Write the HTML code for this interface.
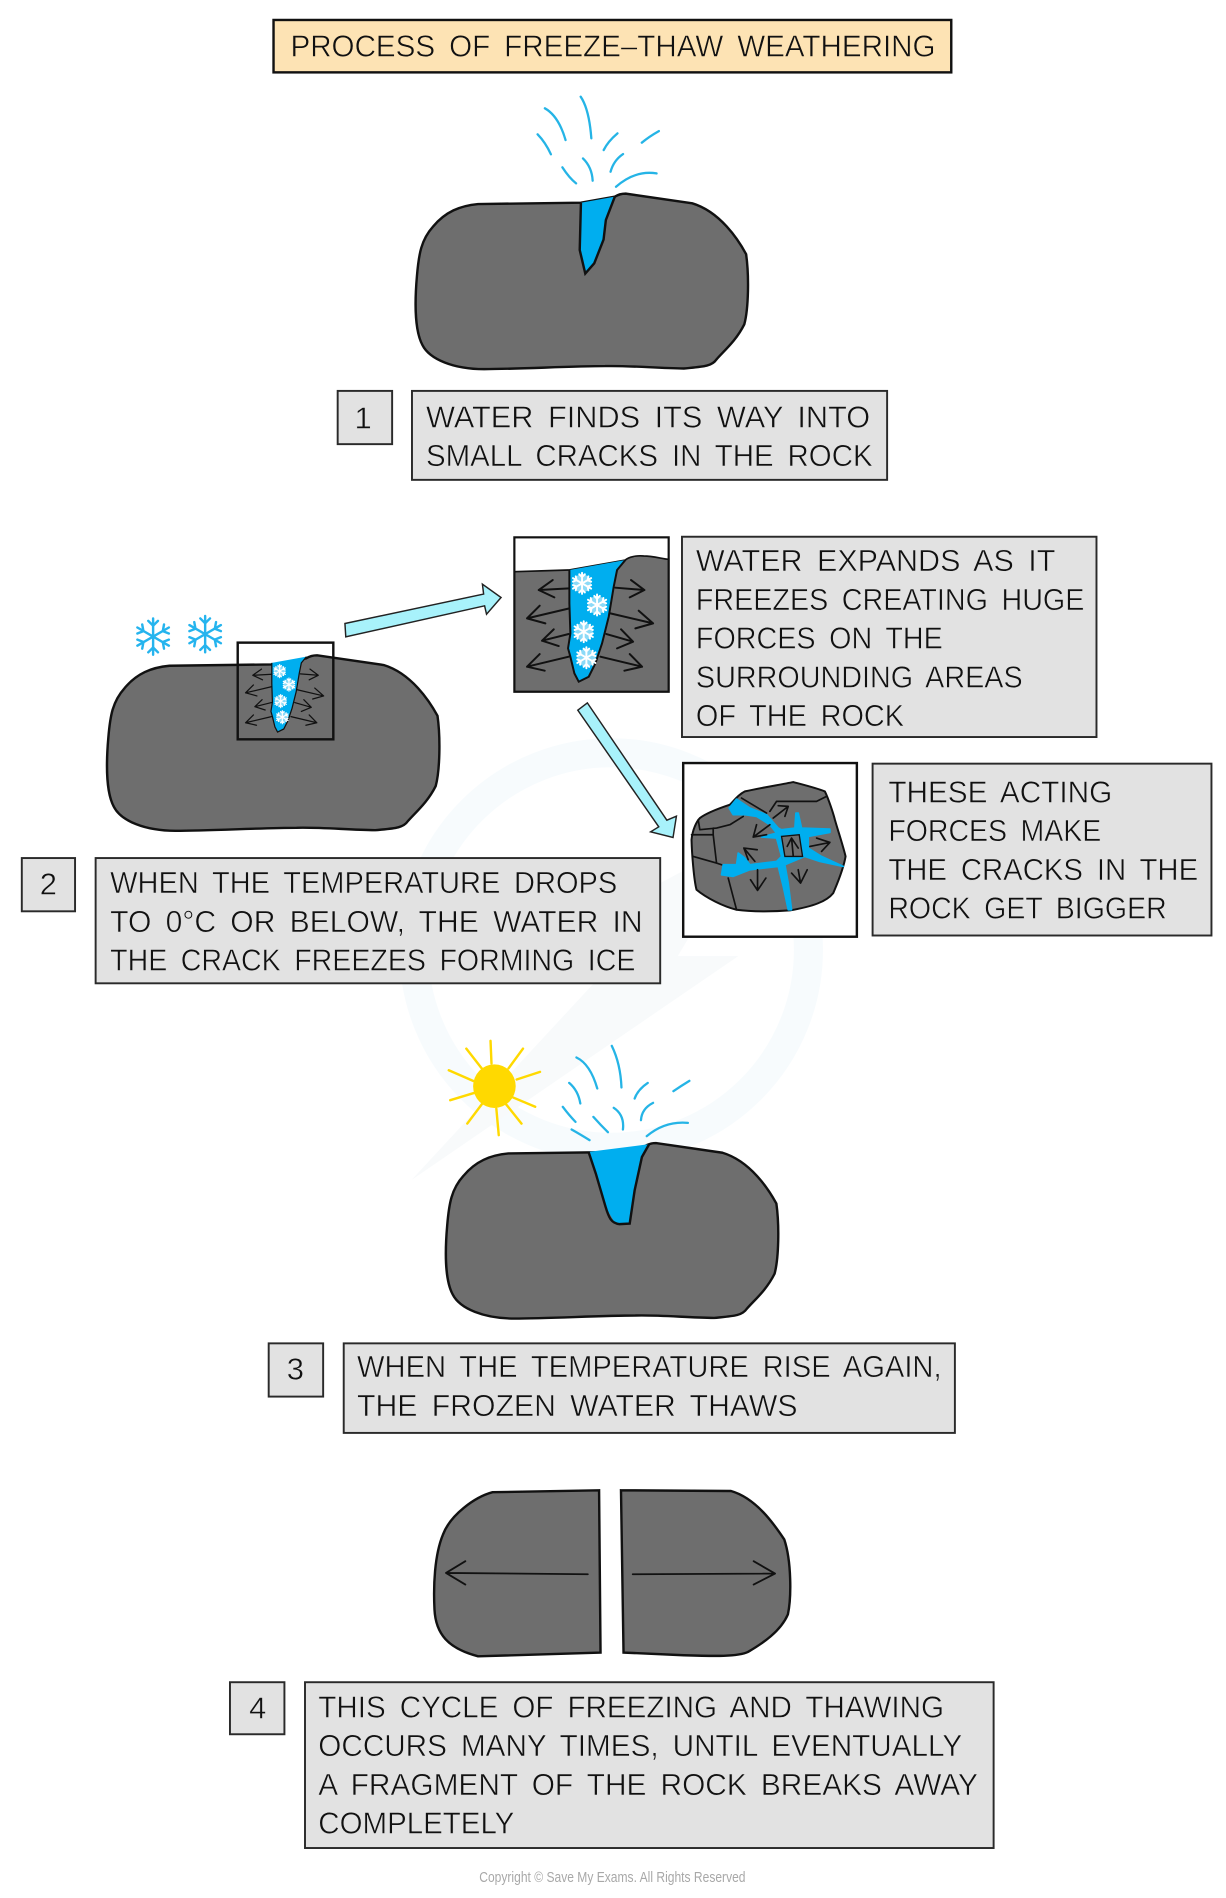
<!DOCTYPE html>
<html>
<head>
<meta charset="utf-8">
<title>Process of Freeze-Thaw Weathering</title>
<style>
html,body{margin:0;padding:0;background:#fff;}
svg{display:block;}
.t{font-family:"Liberation Sans",Arial,sans-serif;font-size:25.6px;fill:#111;stroke:#e2e2e2;stroke-width:.45px;word-spacing:5px;}
.n{font-family:"Liberation Sans",Arial,sans-serif;font-size:25.6px;fill:#111;stroke:#e2e2e2;stroke-width:.4px;text-anchor:middle;}
.b{fill:#e2e2e2;stroke:#2a2a2a;stroke-width:1.6;}
.ar{fill:none;stroke:#111;stroke-linecap:round;stroke-linejoin:round;}
.sp{fill:none;stroke:#25b4e6;stroke-width:1.900;stroke-linecap:round;stroke-linejoin:round;}
</style>
</head>
<body>
<svg xmlns="http://www.w3.org/2000/svg" width="1226" height="1898" viewBox="0 0 1013 1568.300">
<defs>
<path id="rock" d="M395,168.600 L480,167.500 L508,162.500 Q512,160 517,160 L572,168 C595,175 610,198 616.500,210 C619,228 618.500,255 615,268 C608,282 598,290 592,297 C588,303 580,303 565,304.500 C540,304 520,302 500,302.500 C470,302.500 430,305 400,305 C375,305 355,297 349,285 C342,272 343,245 344.500,228 C346,210 348,198 358,187 C368,175 380,170 395,168.600 Z" fill="#6e6e6e" stroke="#111" stroke-width="2"/>
<g id="sf" fill="none" stroke-linecap="round">
<path d="M0,-15V15M-13,-7.500L13,7.500M-13,7.500L13,-7.500"/>
<path d="M-4,-13L0,-9L4,-13M-4,13L0,9L4,13M-13,-2.500L-8,-4.500L-9,-10M13,2.500L8,4.500L9,10M-13,2.500L-8,4.500L-9,10M13,-2.500L8,-4.500L9,-10"/>
</g>
<g id="cu">
<path fill="#00aeef" d="M207,150L375,120L350,150L340,200L325,290L305,370L285,430L265,470L235,485L222,460L210,410L203,385L210,340L207,250Z"/>
<path fill="none" stroke="#111" stroke-width="6" d="M207,150L207,250L210,340L203,385L210,410L222,460L235,485L265,470L285,430L305,370L325,290L340,200L350,150L375,120"/>
<g fill="#fff" opacity=".55">
<circle cx="245" cy="190" r="27"/><circle cx="290" cy="255" r="27"/><circle cx="250" cy="335" r="27"/><circle cx="258" cy="413" r="27"/>
</g>
<g stroke="#fff" stroke-width="2.800">
<use href="#sf" transform="translate(245,190) scale(2.1)"/>
<use href="#sf" transform="translate(290,255) scale(2.1)"/>
<use href="#sf" transform="translate(250,335) scale(2.1)"/>
<use href="#sf" transform="translate(258,413) scale(2.1)"/>
</g>
<g class="ar" stroke-width="6">
<path d="M207,205L115,210M157,180L115,210L162,232"/>
<path d="M207,265L80,295M118,257L80,295L135,310"/>
<path d="M205,342L125,362M160,328L125,362L175,378"/>
<path d="M205,410L80,440M118,402L80,440L133,452"/>
<path d="M345,203L432,210M392,180L432,210L388,232"/>
<path d="M330,280L458,310M415,272L458,310L405,325"/>
<path d="M318,342L398,365M362,328L398,365L350,385"/>
<path d="M300,410L425,440M388,402L425,440L372,452"/>
</g>
</g>
</defs>

<!-- watermark -->
<g fill="none">
<circle cx="505" cy="785" r="163" stroke="#f7fbfd" stroke-width="24"/>
<path d="M340,975L530,770L470,770L620,690L560,790L610,790Z" fill="#f8fafb"/>
</g>

<!-- title -->
<rect x="226" y="16.500" width="560" height="43.300" fill="#fde3b4" stroke="#111" stroke-width="2"/>
<text class="t" style="stroke:#fde3b4" x="240" y="46.800" textLength="533" lengthAdjust="spacingAndGlyphs">PROCESS OF FREEZE–THAW WEATHERING</text>

<!-- rock 1 -->
<g class="sp">
<path d="M450.200,89.500Q461.500,95.800 467.300,115.700M479.800,79.900Q486.800,90.300 488.600,114.300M444.200,111Q450.700,117.700 455.200,127.500M510.200,110.200Q502.300,116.900 498.800,124M544.400,108.300Q536.200,112.900 530.300,117.900M514.800,127.300Q507,132.600 504.500,141.900M481.700,130.900Q489.100,138.100 489.700,149.300M464.700,138.300Q470.400,147.100 476,151.500M542.500,143.300Q525,140.400 509,154.300"/>
</g>
<use href="#rock"/>
<path d="M480,167.500L508,162.500L500.600,181.800L498.700,198L491,217.600L483.600,226L479,206.600Z" fill="#00aeef"/>
<path d="M480,167.500L479,206.600L483.600,226L491,217.600L498.700,198L500.600,181.800L508,162.500" fill="none" stroke="#111" stroke-width="2"/>

<rect class="b" x="279" y="323" width="45" height="44"/>
<text class="n" x="300" y="354">1</text>
<rect class="b" x="340.400" y="323" width="392.600" height="73.500"/>
<text class="t" x="352" y="353.100" textLength="367" lengthAdjust="spacingAndGlyphs">WATER FINDS ITS WAY INTO</text>
<text class="t" x="352" y="385.100" textLength="369" lengthAdjust="spacingAndGlyphs">SMALL CRACKS IN THE ROCK</text>

<!-- rock 2 -->
<g stroke="#25b4ee" stroke-width="2">
<use href="#sf" transform="translate(126.500,526)"/>
<use href="#sf" transform="translate(169.500,524)"/>
</g>
<use href="#rock" transform="translate(-255,381.500)"/>
<g transform="translate(196.400,531) scale(.1707) translate(-42,-52)"><use href="#cu"/></g>
<rect x="196.400" y="531" width="79" height="79.900" fill="none" stroke="#111" stroke-width="2"/>

<!-- arrow 1 -->
<path d="M285,515.200L399.600,490.900L398.600,482.700L414,493.700L402,507.500L400.400,500.600L285.700,526.200Z" fill="#a8f2fb" stroke="#222" stroke-width="1.200"/>
<!-- arrow 2 -->
<path d="M477.400,586.800L485.300,580.800L551,677.700L558.900,674.400L556.100,692L537.600,687.300L544.300,683.200Z" fill="#a8f2fb" stroke="#222" stroke-width="1.200"/>

<!-- inset 1 -->
<rect x="425" y="444" width="127.500" height="127.600" fill="#fff"/>
<g transform="translate(425,444) scale(.2755) translate(-42,-52)">
<path d="M42,155L205,150L375,120C385,110 410,106 430,108C460,108 490,118 505,118V515H42Z" fill="#6e6e6e" stroke="#111" stroke-width="5"/>
<use href="#cu"/>
</g>
<rect x="425" y="444" width="127.500" height="127.600" fill="none" stroke="#111" stroke-width="1.800"/>
<rect class="b" x="563.500" y="443.500" width="342.500" height="165.500"/>
<text class="t" x="575" y="472" textLength="297" lengthAdjust="spacingAndGlyphs">WATER EXPANDS AS IT</text>
<text class="t" x="575" y="504" textLength="321" lengthAdjust="spacingAndGlyphs">FREEZES CREATING HUGE</text>
<text class="t" x="575" y="536" textLength="204" lengthAdjust="spacingAndGlyphs">FORCES ON THE</text>
<text class="t" x="575" y="568" textLength="270" lengthAdjust="spacingAndGlyphs">SURROUNDING AREAS</text>
<text class="t" x="575" y="600" textLength="172" lengthAdjust="spacingAndGlyphs">OF THE ROCK</text>

<!-- inset 2 -->
<rect x="564.500" y="630.500" width="143.500" height="143.500" fill="#fff" stroke="#111" stroke-width="2"/>
<g transform="translate(564.500,630.500) scale(.2755) translate(-40,-40)">
<path d="M65,270C68,240 80,215 90,205C110,190 150,175 180,165C195,150 205,135 225,125C270,115 330,105 370,97C400,105 440,115 465,125C475,145 490,190 495,210C505,245 520,290 527,320C522,350 505,395 490,430C470,455 430,470 360,482C320,485 250,487 200,480C160,470 110,445 80,420C72,390 66,310 65,270Z" fill="#6e6e6e" stroke="#111" stroke-width="6" stroke-linejoin="round"/>
<path d="M178,175L200,148L240,175L290,195L325,235L335,240L375,235L378,190L385,190L395,235L480,238L480,248L415,260L415,295L455,320L520,350L450,335L405,320L345,345L355,400L365,480L355,480L340,410L325,350L240,360L190,380L155,375L160,345L200,345L205,310L225,325L240,345L320,335L335,320L320,265L275,262L320,250L300,225L260,200L225,195L190,195Z" fill="#00aeef" stroke="#00aeef" stroke-width="5" stroke-linejoin="round"/>
<path d="M335,260L388,255L398,320L345,320Z" fill="#6e6e6e" stroke="#111" stroke-width="4"/>
<g class="ar" stroke-width="5">
<path d="M215,145L290,190M300,185L320,155L440,155L470,140M85,210L90,240L140,235L180,225L220,200M65,255L130,255L130,235M130,255L140,340L155,345M70,320L140,340M175,385L200,480"/>
<path d="M310,205L355,170M325,168L355,170L345,200"/>
<path d="M300,225L250,262M260,225L250,262L290,255"/>
<path d="M255,335L222,295M262,300L222,295L235,330"/>
<path d="M263,360L263,422M242,390L263,422L288,385"/>
<path d="M365,370L392,400M385,360L392,400L412,360"/>
<path d="M420,290L480,278M440,265L480,278L455,305"/>
<path d="M370,318L365,265M352,290L365,265L385,295"/>
</g>
</g>
<rect class="b" x="721" y="631" width="280" height="142"/>
<text class="t" x="734" y="663" textLength="185" lengthAdjust="spacingAndGlyphs">THESE ACTING</text>
<text class="t" x="734" y="695" textLength="176" lengthAdjust="spacingAndGlyphs">FORCES MAKE</text>
<text class="t" x="734" y="727" textLength="256" lengthAdjust="spacingAndGlyphs">THE CRACKS IN THE</text>
<text class="t" x="734" y="759" textLength="230" lengthAdjust="spacingAndGlyphs">ROCK GET BIGGER</text>

<!-- box 2 -->
<rect class="b" x="18" y="709" width="44" height="44"/>
<text class="n" x="40" y="739">2</text>
<rect class="b" x="79" y="709" width="466.500" height="103.500"/>
<text class="t" x="91" y="738" textLength="419" lengthAdjust="spacingAndGlyphs">WHEN THE TEMPERATURE DROPS</text>
<text class="t" x="91" y="770" textLength="440" lengthAdjust="spacingAndGlyphs">TO 0°C OR BELOW, THE WATER IN</text>
<text class="t" x="91" y="802" textLength="434" lengthAdjust="spacingAndGlyphs">THE CRACK FREEZES FORMING ICE</text>

<!-- rock 3 -->
<g stroke="#ffd900" stroke-width="2" stroke-linecap="round" fill="none">
<path d="M405.300,860L406.100,878.800M432.100,866.500L420.100,882.900M446.200,885.700L426.900,892M442.200,914.500L424.100,906.900M430.900,928.400L418.100,912.400M412.100,938L410.100,916M386.100,928.400L398.100,912.400M372,909.100L392.100,903M370.800,884.300L390.900,893.100M385.300,866.500L398.100,882.900"/>
</g>
<ellipse cx="408.500" cy="897.500" rx="17.600" ry="18" fill="#ffd900"/>
<g class="sp">
<path d="M476.300,873.800Q487.700,879.200 493.500,899.400M505.500,864.200Q512.700,879 513.500,898.600M470.300,894.800Q477.700,901.100 479.500,911.800M535.200,894.800Q527,900.300 524.400,907.700M569.600,893.100Q562.400,897.500 556.400,901.600M539.600,911.300Q530.200,916.100 529.600,925.600M507.100,915.400Q516.100,921.400 514.700,933.300M490.300,922.900Q496.300,929.700 502.300,935.500M465,914.600Q470.300,921.700 475.500,927M472.300,933.300Q480.600,938 487.100,942.100M568.400,927.800Q549.400,926.100 534.400,938.800"/>
</g>
<use href="#rock" transform="translate(25,784.500)"/>
<path d="M486.300,951.800L536.400,945.400L530.400,956L524.400,983.500L520.300,1011L508.300,1011L500.300,997L492.300,969.700Z" fill="#00aeef"/>
<path d="M486.300,951.800L492.300,969.700L500.300,997C503,1006 505,1011 512,1011.500L520.300,1011L524.400,983.500L530.400,956L536.400,945.400" fill="none" stroke="#111" stroke-width="2"/>

<rect class="b" x="222" y="1110" width="45" height="44"/>
<text class="n" x="244" y="1140">3</text>
<rect class="b" x="284" y="1110" width="505" height="74"/>
<text class="t" x="295" y="1138" textLength="483" lengthAdjust="spacingAndGlyphs">WHEN THE TEMPERATURE RISE AGAIN,</text>
<text class="t" x="295" y="1170" textLength="364" lengthAdjust="spacingAndGlyphs">THE FROZEN WATER THAWS</text>

<!-- rock 4 -->
<path d="M495,1231.400L407,1233C392,1237 372,1252 366,1268C359,1285 358,1310 359,1330C360,1350 370,1362 395,1368.600L496.200,1365.500Z" fill="#6e6e6e" stroke="#111" stroke-width="2"/>
<path d="M513.100,1231.400L604,1232C625,1238 640,1260 648,1272C654,1290 654,1320 651,1334C645,1348 630,1358 618,1365C610,1369 590,1368.500 565,1367.700L515.200,1365.500Z" fill="#6e6e6e" stroke="#111" stroke-width="2"/>
<g class="ar" stroke-width="1.500">
<path d="M485.700,1300.800L368.500,1299.700M384.500,1290L368.500,1299.700L384.500,1309.300"/>
<path d="M522.800,1300.800L640.400,1300.200M622.700,1290L640.400,1300.200L622.700,1309.300"/>
</g>

<rect class="b" x="190" y="1390" width="45" height="43"/>
<text class="n" x="213" y="1420">4</text>
<rect class="b" x="252" y="1390" width="569" height="137"/>
<text class="t" x="263" y="1419" textLength="517" lengthAdjust="spacingAndGlyphs">THIS CYCLE OF FREEZING AND THAWING</text>
<text class="t" x="263" y="1451" textLength="532" lengthAdjust="spacingAndGlyphs">OCCURS MANY TIMES, UNTIL EVENTUALLY</text>
<text class="t" x="263" y="1483" textLength="545" lengthAdjust="spacingAndGlyphs">A FRAGMENT OF THE ROCK BREAKS AWAY</text>
<text class="t" x="263" y="1515" textLength="162" lengthAdjust="spacingAndGlyphs">COMPLETELY</text>

<text x="396" y="1555" font-family="'Liberation Sans',Arial,sans-serif" font-size="12" fill="#a8a8a8" textLength="220" lengthAdjust="spacingAndGlyphs">Copyright © Save My Exams. All Rights Reserved</text>
</svg>
</body>
</html>
